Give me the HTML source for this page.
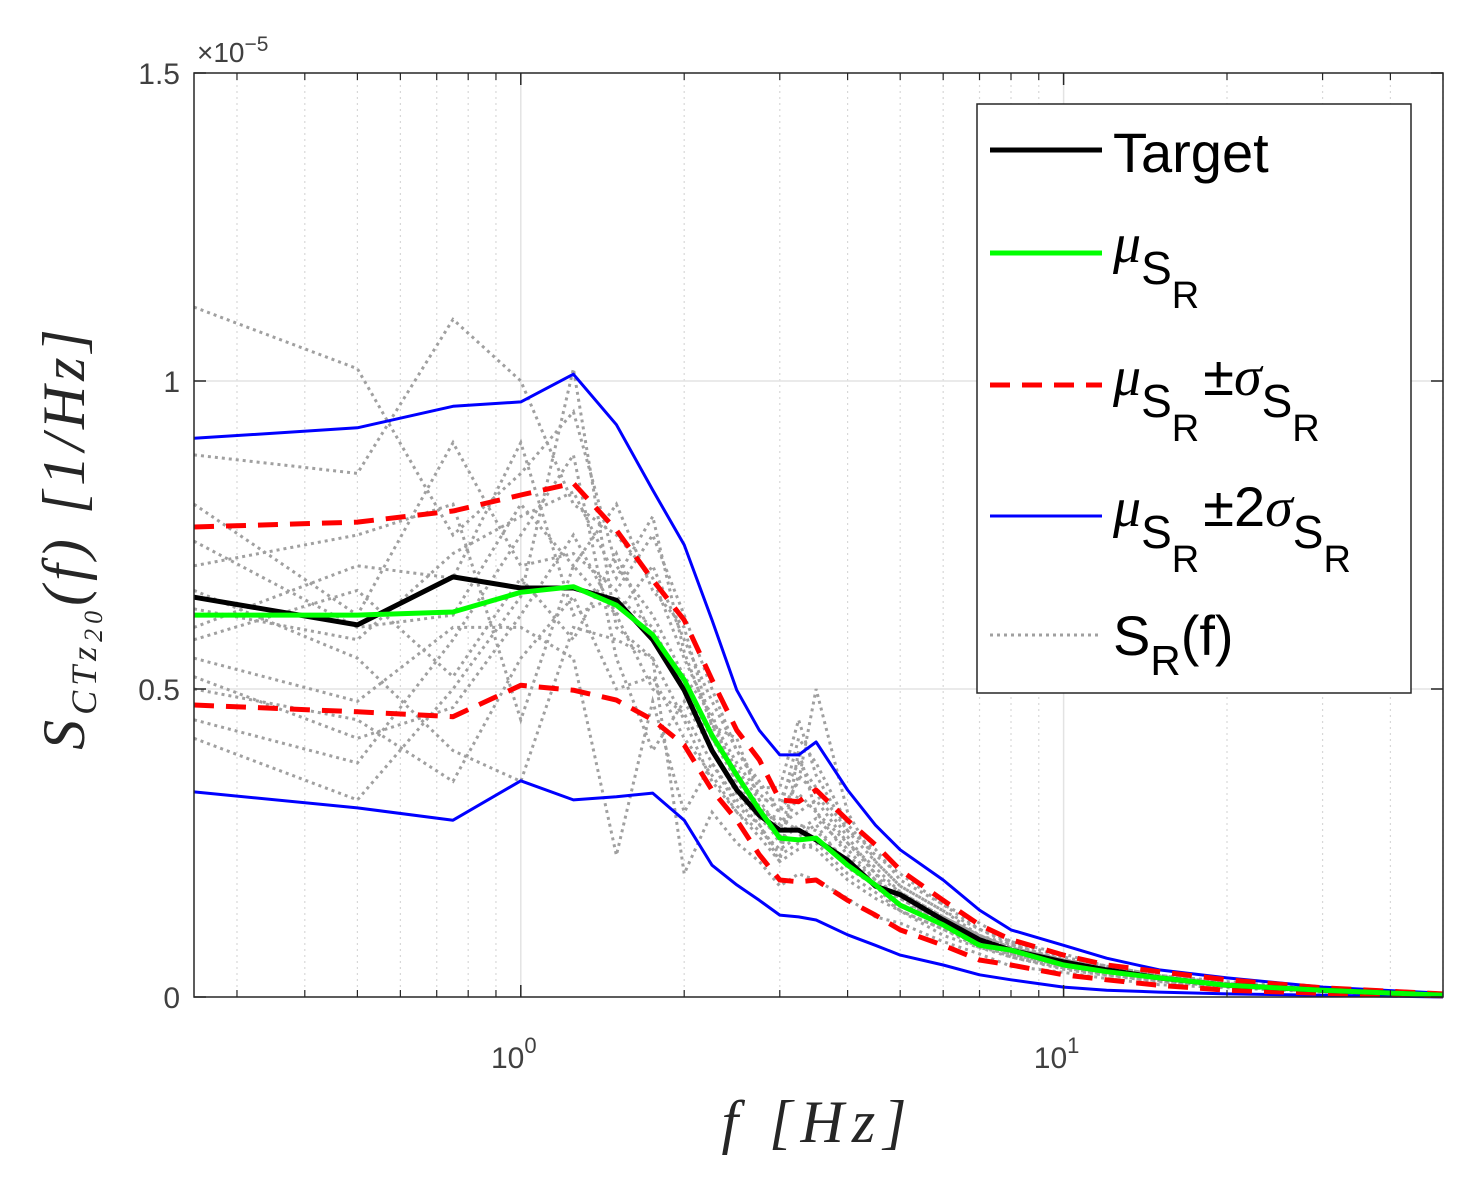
<!DOCTYPE html>
<html><head><meta charset="utf-8"><style>
html,body{margin:0;padding:0;background:#fff;}
svg{display:block;font-family:"Liberation Sans",sans-serif;}
</style></head><body>
<svg id="chart" width="1481" height="1181" viewBox="0 0 1481 1181" xmlns="http://www.w3.org/2000/svg">
<rect x="0" y="0" width="1481" height="1181" fill="#fff"/>
<g id="grid"></g>
<g id="samples"></g>
<g id="series"></g>
<rect x="194" y="73" width="1249" height="924" fill="none" stroke="#262626" stroke-width="1.5"/>
<g id="ticks"></g>
<text x="197" y="62" font-size="28" fill="#404040">×10<tspan dy="-11" font-size="21">−5</tspan></text>
<text transform="translate(84,537) rotate(-90)" text-anchor="middle" font-family="Liberation Serif,serif" font-style="italic" font-size="60" letter-spacing="5" fill="#262626">S<tspan dy="12" font-size="36">CTz</tspan><tspan dy="6" font-size="26">20</tspan><tspan dy="-18">(f) [1/Hz]</tspan></text>
<text x="818" y="1142" text-anchor="middle" font-family="Liberation Serif,serif" font-style="italic" font-size="60" letter-spacing="8" fill="#262626">f [Hz]</text>
<g>
<rect x="977" y="104" width="434" height="589" fill="#fff" stroke="#262626" stroke-width="1.5"/>
<line x1="990" y1="150" x2="1102" y2="150" stroke="#000" stroke-width="5"/>
<text x="1113" y="172" font-size="56" fill="#000">Target</text>
<line x1="990" y1="253" x2="1102" y2="253" stroke="#00ff00" stroke-width="5"/>
<text x="1113" y="262" font-size="56" fill="#000"><tspan font-family="Liberation Serif,serif" font-style="italic">μ</tspan><tspan dy="22" font-size="46">S</tspan><tspan dy="24" font-size="38">R</tspan></text>
<line x1="990" y1="385" x2="1102" y2="385" stroke="#ff0000" stroke-width="5" stroke-dasharray="20,12"/>
<text x="1113" y="395" font-size="56" fill="#000"><tspan font-family="Liberation Serif,serif" font-style="italic">μ</tspan><tspan dy="22" font-size="46">S</tspan><tspan dy="24" font-size="38">R</tspan><tspan dy="-46" dx="4">±</tspan><tspan font-family="Liberation Serif,serif" font-style="italic">σ</tspan><tspan dy="22" font-size="46">S</tspan><tspan dy="24" font-size="38">R</tspan></text>
<line x1="990" y1="516" x2="1102" y2="516" stroke="#0000ff" stroke-width="3"/>
<text x="1113" y="526" font-size="56" fill="#000"><tspan font-family="Liberation Serif,serif" font-style="italic">μ</tspan><tspan dy="22" font-size="46">S</tspan><tspan dy="24" font-size="38">R</tspan><tspan dy="-46" dx="4">±2</tspan><tspan font-family="Liberation Serif,serif" font-style="italic">σ</tspan><tspan dy="22" font-size="46">S</tspan><tspan dy="24" font-size="38">R</tspan></text>
<line x1="990" y1="635" x2="1102" y2="635" stroke="#a0a0a0" stroke-width="3" stroke-dasharray="3,4"/>
<text x="1113" y="655" font-size="56" fill="#000">S<tspan dy="20" font-size="42">R</tspan><tspan dy="-20">(f)</tspan></text>
</g>
</svg>
<script>
const freqs=[0.25,0.5,0.75,1,1.25,1.5,1.75,2,2.25,2.5,2.75,3,3.25,3.5,4,4.5,5,6,7,8,10,12,15,20,30,50];
const target=[0.649,0.604,0.682,0.664,0.664,0.644,0.58,0.498,0.40,0.336,0.295,0.271,0.271,0.255,0.222,0.18,0.166,0.125,0.093,0.076,0.057,0.044,0.031,0.019,0.011,0.003];
const meanS=[0.62,0.62,0.625,0.657,0.666,0.636,0.588,0.515,0.425,0.36,0.304,0.258,0.255,0.258,0.214,0.182,0.149,0.117,0.084,0.076,0.052,0.041,0.031,0.019,0.011,0.003];
const upper1=[0.763,0.771,0.789,0.815,0.834,0.758,0.677,0.612,0.515,0.433,0.385,0.32,0.317,0.336,0.287,0.247,0.206,0.157,0.117,0.093,0.068,0.052,0.041,0.028,0.015,0.005];
const lower1=[0.474,0.463,0.455,0.506,0.498,0.482,0.45,0.409,0.336,0.287,0.231,0.19,0.187,0.19,0.157,0.133,0.109,0.084,0.06,0.052,0.036,0.028,0.019,0.011,0.006,0.002];
const upper2=[0.907,0.924,0.959,0.966,1.011,0.929,0.823,0.734,0.612,0.498,0.433,0.393,0.393,0.414,0.336,0.279,0.239,0.19,0.141,0.109,0.084,0.063,0.044,0.031,0.016,0.006];
const lower2=[0.333,0.307,0.287,0.351,0.32,0.325,0.331,0.287,0.214,0.182,0.157,0.133,0.13,0.125,0.101,0.084,0.068,0.052,0.036,0.028,0.016,0.011,0.008,0.005,0.003,0.0];
const samples=[
[1.12,1.02,0.75,0.85,0.95,0.70,0.62,0.52,0.42,0.35,0.30,0.25,0.28,0.27,0.22,0.18,0.16,0.12,0.09,0.07,0.05,0.04,0.03,0.02,0.01,0.003],
[0.88,0.85,1.10,1.00,0.80,0.75,0.68,0.55,0.45,0.38,0.33,0.30,0.35,0.50,0.30,0.22,0.18,0.14,0.10,0.08,0.06,0.05,0.035,0.022,0.012,0.004],
[0.42,0.32,0.50,0.65,1.02,0.60,0.55,0.45,0.35,0.30,0.26,0.22,0.40,0.30,0.25,0.20,0.15,0.13,0.10,0.08,0.055,0.045,0.03,0.02,0.01,0.003],
[0.55,0.48,0.60,0.60,0.55,0.23,0.48,0.30,0.38,0.32,0.28,0.23,0.25,0.24,0.19,0.16,0.14,0.11,0.08,0.07,0.05,0.04,0.03,0.02,0.01,0.002],
[0.80,0.62,0.90,0.70,0.72,0.66,0.75,0.62,0.50,0.40,0.35,0.30,0.42,0.38,0.28,0.23,0.20,0.15,0.12,0.09,0.07,0.05,0.035,0.025,0.013,0.004],
[0.66,0.55,0.40,0.35,0.60,0.58,0.55,0.20,0.30,0.25,0.22,0.18,0.20,0.19,0.16,0.13,0.12,0.09,0.07,0.05,0.04,0.03,0.02,0.015,0.008,0.002],
[0.60,0.70,0.68,0.90,0.62,0.65,0.60,0.50,0.42,0.36,0.31,0.28,0.30,0.32,0.25,0.21,0.17,0.13,0.10,0.08,0.06,0.045,0.03,0.02,0.01,0.003],
[0.50,0.45,0.35,0.55,0.65,0.50,0.52,0.42,0.36,0.30,0.27,0.24,0.26,0.28,0.21,0.18,0.14,0.11,0.085,0.065,0.045,0.035,0.025,0.017,0.009,0.002],
[0.70,0.75,0.80,0.45,0.70,0.62,0.70,0.58,0.48,0.40,0.34,0.34,0.45,0.36,0.27,0.24,0.19,0.15,0.11,0.09,0.065,0.05,0.035,0.022,0.012,0.003],
[0.45,0.38,0.58,0.75,0.88,0.55,0.40,0.48,0.40,0.33,0.29,0.26,0.33,0.30,0.23,0.19,0.16,0.12,0.09,0.075,0.05,0.04,0.028,0.018,0.01,0.003],
[0.63,0.58,0.72,0.78,0.82,0.68,0.78,0.56,0.44,0.37,0.32,0.27,0.36,0.33,0.26,0.20,0.17,0.13,0.10,0.085,0.06,0.045,0.032,0.02,0.011,0.003],
[0.58,0.66,0.52,0.68,0.58,0.72,0.58,0.52,0.46,0.34,0.30,0.29,0.27,0.29,0.24,0.19,0.16,0.12,0.09,0.07,0.055,0.04,0.029,0.019,0.01,0.002],
[0.74,0.60,0.62,0.80,0.70,0.80,0.66,0.60,0.44,0.42,0.32,0.32,0.38,0.34,0.27,0.22,0.18,0.14,0.11,0.085,0.06,0.048,0.033,0.021,0.012,0.003],
[0.52,0.42,0.47,0.62,0.75,0.62,0.50,0.46,0.38,0.31,0.28,0.22,0.24,0.25,0.20,0.17,0.14,0.10,0.08,0.065,0.047,0.036,0.026,0.017,0.009,0.002]
];
const yTicks=[0,0.5,1,1.5];
const yTickLabels=["0","0.5","1","1.5"];
const xMajor=[1,10];
const xMinor=[0.3,0.4,0.5,0.6,0.7,0.8,0.9,2,3,4,5,6,7,8,9,20,30,40,50];

const X0=194,X1=1443,Y0=997,Y1=73;
const LMIN=Math.log10(0.25),LMAX=Math.log10(50);
function xs(f){return X0+(Math.log10(f)-LMIN)/(LMAX-LMIN)*(X1-X0);}
function ys(v){return Y0-(v/1.5)*(Y0-Y1);}
const NS="http://www.w3.org/2000/svg";
function mk(tag,attrs,parent){const e=document.createElementNS(NS,tag);for(const k in attrs)e.setAttribute(k,attrs[k]);parent.appendChild(e);return e;}
const grid=document.getElementById('grid'),ticks=document.getElementById('ticks');
xMinor.forEach(f=>{
  const l=mk('line',{x1:xs(f),x2:xs(f),y1:Y1,y2:Y0,stroke:'#d8d8d8','stroke-width':1.2,'stroke-dasharray':'2,4'},grid);
  
  
  mk('line',{x1:xs(f),x2:xs(f),y1:Y0,y2:Y0-7,stroke:'#262626','stroke-width':1.2},ticks);
  mk('line',{x1:xs(f),x2:xs(f),y1:Y1,y2:Y1+7,stroke:'#262626','stroke-width':1.2},ticks);
});
xMajor.forEach((f,i)=>{
  const l=mk('line',{x1:xs(f),x2:xs(f),y1:Y1,y2:Y0,stroke:'#e3e3e3','stroke-width':1.5},grid);
  
  
  mk('line',{x1:xs(f),x2:xs(f),y1:Y0,y2:Y0-12,stroke:'#262626','stroke-width':1.5},ticks);
  mk('line',{x1:xs(f),x2:xs(f),y1:Y1,y2:Y1+12,stroke:'#262626','stroke-width':1.5},ticks);
  const t=mk('text',{x:xs(f)-7,y:1068,'text-anchor':'middle','font-size':30,fill:'#404040'},ticks);
  
  
  t.textContent='10';
  const s=mk('tspan',{dy:-15,'font-size':22},t);s.textContent=String(i);
});
yTicks.forEach((v,i)=>{
  if(v>0&&v<1.5){const l=mk('line',{x1:X0,x2:X1,y1:ys(v),y2:ys(v),stroke:'#e3e3e3','stroke-width':1.5},grid);
  
  }
  mk('line',{x1:X0,x2:X0+12,y1:ys(v),y2:ys(v),stroke:'#262626','stroke-width':1.5},ticks);
  mk('line',{x1:X1,x2:X1-12,y1:ys(v),y2:ys(v),stroke:'#262626','stroke-width':1.5},ticks);
  const t=mk('text',{x:180,y:ys(v)+11,'text-anchor':'end','font-size':30,fill:'#404040'},ticks);
  
  
  t.textContent=yTickLabels[i];
});
function pts(vals){return vals.map((v,i)=>xs(freqs[i]).toFixed(1)+','+ys(v).toFixed(1)).join(' ');}
const sg=document.getElementById('samples');
samples.forEach(s=>{
  const p=mk('polyline',{points:pts(s),fill:'none',stroke:'#a0a0a0','stroke-width':3,'stroke-dasharray':'3,4'},sg);
  
  
});
const sr=document.getElementById('series');
[[upper2,'#0000ff',3,null,'upper-2sigma-line'],[lower2,'#0000ff',3,null,'lower-2sigma-line'],
 [upper1,'#ff0000',5,'20,12','upper-sigma-line'],[lower1,'#ff0000',5,'20,12','lower-sigma-line'],
 [target,'#000000',5,null,'target-line'],[meanS,'#00ff00',5,null,'mean-line']].forEach(d=>{
  const a={points:pts(d[0]),fill:'none',stroke:d[1],'stroke-width':d[2],'stroke-linejoin':'round'};
  if(d[3])a['stroke-dasharray']=d[3];
  const p=mk('polyline',a,sr);
  
  
});
</script>
</body></html>
